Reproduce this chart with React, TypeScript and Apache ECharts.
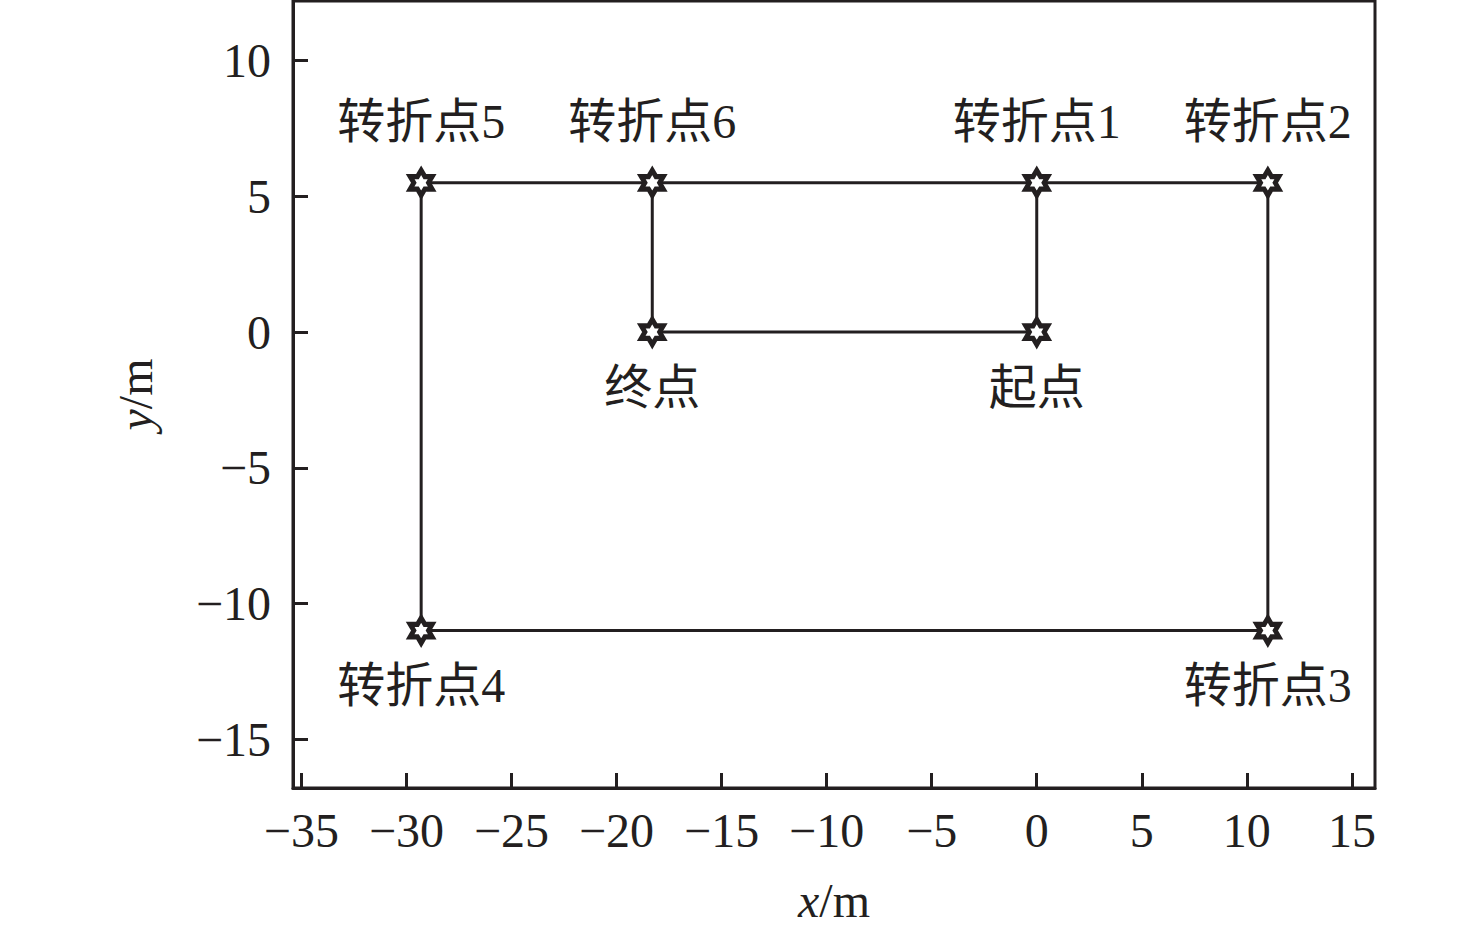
import React, { useEffect, useRef } from "react";
import * as echarts from "echarts";

// Trajectory waypoints (metres), in travel order
const pointNames = ["起点", "转折点1", "转折点2", "转折点3", "转折点4", "转折点5", "转折点6", "终点"];
const pointX = [0, 0, 11, 11, -29.3, -29.3, -18.3, -18.3];
const pointY = [0, 5.5, 5.5, -11, -11, 5.5, 5.5, 0];

// Extra straight runs: 转折点6 → 转折点1 along the top, 终点 → 起点 along y = 0
const linkPairs = [
  [6, 1],
  [7, 0],
];

const xRange = [-35.4, 16.1];
const yRange = [-16.8, 12.2];

const INK = "#231f20";
const SERIF = "Liberation Serif, Times New Roman, Noto Sans CJK SC, serif";

const HEXAGRAM =
  "path://M0,-10 L2.887,-5 L8.66,-5 L5.77,0 L8.66,5 L2.887,5 L0,10 L-2.887,5 L-8.66,5 L-5.77,0 L-8.66,-5 L-2.887,-5 Z";

const minus = (v: number) => String(v).replace("-", "\u2212");

export default function App() {
  const ref = useRef<HTMLDivElement>(null);

  useEffect(() => {
    if (!ref.current) return;
    const chart = echarts.init(ref.current, null, { renderer: "svg" });

    const pathData = pointNames.map((name, i) => {
      const above = pointY[i] > 0;
      return {
        name,
        value: [pointX[i], pointY[i]],
        label: {
          show: true,
          formatter: name,
          position: above ? "top" : "bottom",
          distance: above ? 22 : 16,
          fontSize: 48,
          fontFamily: SERIF,
          color: INK,
        },
      };
    });

    const linkSeries = linkPairs.map((pair) => ({
      type: "line",
      data: pair.map((i) => [pointX[i], pointY[i]]),
      showSymbol: false,
      symbol: "none",
      lineStyle: { color: INK, width: 3 },
      z: 2,
    }));

    const axisCommon = {
      type: "value" as const,
      minInterval: 5,
      maxInterval: 5,
      splitLine: { show: false },
      axisLine: { show: true, onZero: false, lineStyle: { color: INK, width: 3 } },
      axisTick: { show: true, inside: true, length: 15, lineStyle: { color: INK, width: 3 } },
      nameTextStyle: {
        fontSize: 48,
        fontFamily: SERIF,
        color: INK,
        rich: {
          i: { fontSize: 48, fontFamily: SERIF, fontStyle: "italic", color: INK },
          n: { fontSize: 48, fontFamily: SERIF, color: INK },
        },
      },
    };

    chart.setOption({
      animation: false,
      backgroundColor: "#ffffff",
      grid: {
        left: 293,
        right: 101,
        top: 1,
        bottom: 150,
        show: true,
        borderColor: INK,
        borderWidth: 3,
        backgroundColor: "transparent",
      },
      xAxis: {
        ...axisCommon,
        min: xRange[0],
        max: xRange[1],
        name: "{i|x}{n|/m}",
        nameLocation: "middle",
        nameGap: 88,
        axisLabel: {
          fontSize: 48,
          fontFamily: SERIF,
          color: INK,
          margin: 18,
          showMinLabel: false,
          showMaxLabel: false,
          formatter: minus,
        },
      },
      yAxis: {
        ...axisCommon,
        min: yRange[0],
        max: yRange[1],
        name: "{i|y}{n|/m}",
        nameLocation: "middle",
        nameGap: 134,
        axisLabel: {
          fontSize: 48,
          fontFamily: SERIF,
          color: INK,
          margin: 22,
          showMinLabel: false,
          showMaxLabel: false,
          formatter: minus,
        },
      },
      series: [
        ...linkSeries,
        {
          type: "line",
          data: pathData,
          symbol: HEXAGRAM,
          symbolSize: [22, 25],
          showAllSymbol: true,
          itemStyle: { color: "#ffffff", borderColor: INK, borderWidth: 5 },
          lineStyle: { color: INK, width: 3 },
          z: 3,
        },
      ],
    });

    return () => chart.dispose();
  }, []);

  return (
    <div
      ref={ref}
      style={{ position: "fixed", left: 0, top: 0, width: 1476, height: 938, background: "#fff" }}
    />
  );
}
